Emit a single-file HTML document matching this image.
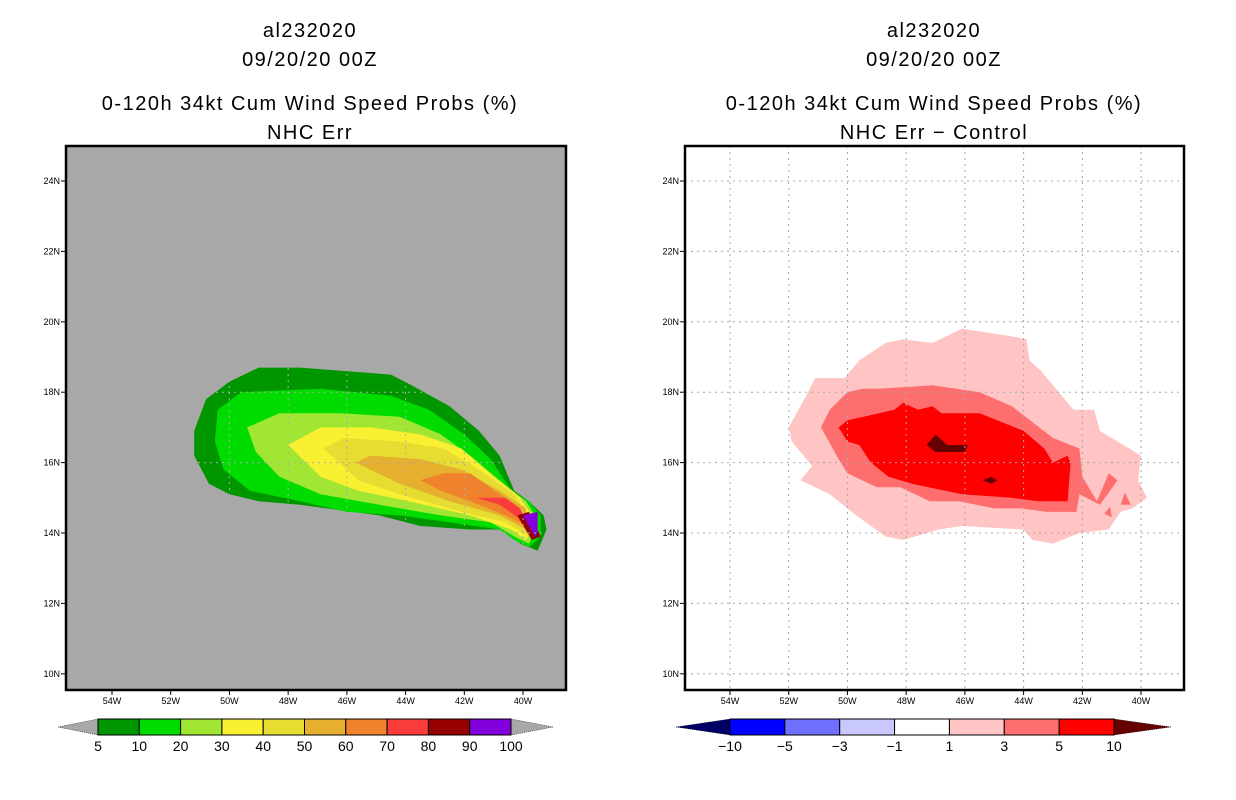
<!DOCTYPE html>
<html><head><meta charset="utf-8"><style>
html,body{margin:0;padding:0;background:#fff;}
svg{display:block;font-family:"Liberation Sans",sans-serif;}
</style></head><body>
<svg id="s" width="1236" height="800" xmlns="http://www.w3.org/2000/svg"></svg>
<script>
const lonTicks=[-54,-52,-50,-48,-46,-44,-42,-40];
const latTicks=[10,12,14,16,18,20,22,24];
const leftLevels=["5","10","20","30","40","50","60","70","80","90","100"];
const leftColors=["#009600","#00dc00","#a0e632","#faf032","#e6dc32","#e6af2d","#f0822d","#fa3c3c","#960000","#8200dc"];
const rightLevels=["−10","−5","−3","−1","1","3","5","10"];
const rightColors=["#0000ff","#7070ff","#c8c8ff","#ffffff","#ffc4c4","#ff6e6e","#ff0000"];
const c5=[[-49.0,18.7],[-47.6,18.7],[-44.5,18.5],[-43.8,18.2],[-42.5,17.6],[-41.5,16.9],[-40.8,16.2],[-40.3,15.2],[-39.8,14.9],[-39.3,14.5],[-39.2,14.1],[-39.5,13.5],[-40.1,13.7],[-40.6,14.1],[-41.8,14.1],[-43.5,14.2],[-44.9,14.5],[-47.6,14.8],[-49.0,14.9],[-50.0,15.1],[-50.7,15.4],[-51.2,16.2],[-51.2,16.9],[-50.8,17.8],[-50.0,18.3]];
const c10=[[-49.6,18.0],[-46.9,18.1],[-44.5,17.9],[-43.2,17.5],[-42.0,16.8],[-41.1,16.1],[-40.4,15.2],[-39.8,14.9],[-39.4,14.5],[-39.4,13.9],[-39.8,13.6],[-40.3,13.8],[-40.8,14.1],[-42.5,14.3],[-44.2,14.5],[-46.0,14.6],[-47.6,14.9],[-49.3,15.2],[-50.2,15.8],[-50.5,16.6],[-50.4,17.5]];
const c20=[[-49.4,17.0],[-48.3,17.4],[-46.2,17.4],[-44.2,17.3],[-42.8,16.8],[-41.8,16.2],[-40.8,15.5],[-39.9,14.9],[-39.6,14.5],[-39.6,14.0],[-39.8,13.7],[-40.3,13.9],[-41.1,14.3],[-42.8,14.5],[-44.9,14.8],[-46.9,15.1],[-48.3,15.6],[-49.1,16.3]];
const c30=[[-48.0,16.5],[-46.9,17.0],[-45.2,17.0],[-43.5,16.8],[-42.1,16.4],[-41.0,15.6],[-40.1,15.0],[-39.7,14.5],[-39.7,14.1],[-39.9,13.8],[-40.4,14.1],[-41.8,14.5],[-43.9,14.9],[-45.6,15.2],[-46.9,15.6]];
const c40=[[-46.8,16.4],[-46.1,16.7],[-44.2,16.6],[-42.7,16.4],[-41.3,15.7],[-40.3,15.1],[-39.8,14.5],[-39.8,13.9],[-40.6,14.3],[-42.1,14.6],[-44.2,15.1],[-45.6,15.5]];
const c50=[[-45.7,16.0],[-45.2,16.2],[-43.5,16.1],[-42.1,15.8],[-40.8,15.2],[-39.9,14.7],[-39.9,14.1],[-40.8,14.5],[-42.5,14.9],[-44.2,15.4]];
const c60=[[-43.5,15.5],[-42.7,15.7],[-41.8,15.7],[-40.8,15.1],[-40.1,14.7],[-39.9,14.2],[-40.6,14.5],[-41.8,14.9],[-42.8,15.2]];
const c70=[[-41.6,15.0],[-40.6,15.0],[-40.1,14.7],[-39.8,14.1],[-40.1,14.4],[-40.8,14.8]];
const c80=[[-40.2,14.5],[-39.8,14.6],[-39.4,13.9],[-39.7,13.8]];
const c90=[[-40.0,14.5],[-39.5,14.6],[-39.5,14.0],[-39.6,13.9]];
const leftContours=[c5,c10,c20,c30,c40,c50,c60,c70,c80,c90];
const d1=[[-52.0,17.0],[-51.4,17.9],[-51.1,18.4],[-50.1,18.4],[-49.6,18.9],[-48.7,19.4],[-48.1,19.5],[-47.1,19.4],[-46.1,19.8],[-44.5,19.6],[-43.9,19.5],[-43.8,18.9],[-43.4,18.6],[-42.3,17.5],[-41.6,17.5],[-41.4,16.9],[-40.0,16.2],[-40.1,15.5],[-39.8,15.0],[-40.3,14.7],[-40.7,14.6],[-41.1,14.1],[-42.1,14.0],[-43.0,13.7],[-43.7,13.8],[-44.0,14.1],[-46.1,14.2],[-46.9,14.1],[-48.1,13.8],[-48.7,13.9],[-49.7,14.5],[-50.6,15.1],[-51.6,15.5],[-51.2,15.9],[-51.9,16.6]];
const d3=[[-50.9,17.0],[-50.6,17.5],[-50.0,18.0],[-49.5,18.1],[-48.9,18.1],[-47.1,18.2],[-45.5,18.0],[-44.4,17.6],[-43.0,16.7],[-42.1,16.4],[-42.0,15.6],[-41.5,14.9],[-41.1,15.7],[-40.8,15.5],[-41.4,14.8],[-42.1,15.1],[-42.2,14.6],[-43.2,14.6],[-44.1,14.7],[-45.0,14.7],[-46.2,14.9],[-47.2,14.9],[-48.2,15.3],[-49.0,15.3],[-50.0,15.7],[-50.3,16.1]];
const d3b=[[-40.7,14.8],[-40.55,15.15],[-40.35,14.8]];
const d3c=[[-41.25,14.55],[-41.05,14.75],[-41.0,14.45]];
const d5=[[-50.3,17.0],[-50.0,17.2],[-48.4,17.5],[-48.1,17.7],[-47.6,17.5],[-47.1,17.6],[-46.8,17.4],[-45.5,17.4],[-44.0,16.9],[-43.3,16.4],[-43.0,16.0],[-42.5,16.2],[-42.4,16.0],[-42.5,14.9],[-43.5,14.9],[-44.4,15.0],[-46.1,15.1],[-47.8,15.4],[-48.6,15.6],[-49.2,16.0],[-49.6,16.5],[-50.0,16.6]];
const d10a=[[-47.3,16.5],[-47.0,16.8],[-46.6,16.5],[-45.9,16.5],[-46.0,16.3],[-47.0,16.3]];
const d10b=[[-45.4,15.5],[-45.1,15.6],[-44.9,15.5],[-45.1,15.4]];
const rightContours=[[d1,"#ffc4c4"],[d3,"#ff6e6e"],[d3b,"#ff6e6e"],[d3c,"#ff6e6e"],[d5,"#ff0000"],[d10a,"#640000"],[d10b,"#640000"]];

const NS="http://www.w3.org/2000/svg";
const svg=document.getElementById('s');
function el(t,a,p){const e=document.createElementNS(NS,t);for(const k in a)e.setAttribute(k,a[k]);(p||svg).appendChild(e);return e;}
function txt(x,y,s,size,anchor,p){const e=el('text',{x:x,y:y,'font-size':size,'text-anchor':anchor||'middle',fill:'#000'},p);e.textContent=s;return e;}

function panel(off,bg,gridCol,contours,titles,name){
  const X=lon=>112+off+(lon+54)*29.36;
  const Y=lat=>181+(24-lat)*35.2;
  const g=el('g',{});
  
  
  const x0=66+off-(off?-1:0),x1=566+off;
  const bgr=el('rect',{x:x0,y:146,width:x1-x0,height:544,fill:bg},g);
  
  
  contours.forEach(([pts,col],i)=>{
    const p=el('polygon',{points:pts.map(q=>X(q[0]).toFixed(1)+','+Y(q[1]).toFixed(1)).join(' '),fill:col},g);
    
    
  });
  lonTicks.forEach(l=>{
    const ln=el('line',{x1:X(l),x2:X(l),y1:146,y2:690,stroke:gridCol,'stroke-width':1,'stroke-dasharray':'2,4'},g);
    
    
    el('line',{x1:X(l),x2:X(l),y1:690,y2:695,stroke:'#000'},g);
    const t=txt(X(l),704,Math.abs(l)+'W',9,'middle',g);
    
    
  });
  latTicks.forEach(l=>{
    const ln=el('line',{x1:x0,x2:x1,y1:Y(l),y2:Y(l),stroke:gridCol,'stroke-width':1,'stroke-dasharray':'2,4'},g);
    
    
    el('line',{x1:x0-5,x2:x0,y1:Y(l),y2:Y(l),stroke:'#000'},g);
    const t=txt(x0-6,Y(l)+3,l+'N',9,'end',g);
    
    
  });
  const fr=el('rect',{x:x0,y:146,width:x1-x0,height:544,fill:'none',stroke:'#000','stroke-width':2.5},g);
  
  
  const cx=off?934:310;
  const ys=[37,66,110,139];
  titles.forEach((s,i)=>{
    const t=txt(cx,ys[i],s,20,'middle',g);
    t.setAttribute('letter-spacing','1.5');
    
    
  });
}
panel(0,'#a8a8a8','#acacac',leftContours.map((c,i)=>[c,leftColors[i]]),["al232020","09/20/20 00Z","0-120h 34kt Cum Wind Speed Probs (%)","NHC Err"],'left-panel');
panel(618,'#ffffff','#a8a8a8',rightContours,["al232020","09/20/20 00Z","0-120h 34kt Cum Wind Speed Probs (%)","NHC Err \u2212 Control"],'right-panel');

function colorbar(x0,x1,tipL,tipR,colors,labels,lc,rc,name){
  const g=el('g',{});
  
  
  const y0=719,y1=735,ym=727,w=(x1-x0)/colors.length;
  el('polygon',{points:`${tipL},${ym} ${x0},${y0} ${x0},${y1}`,fill:lc,stroke:'#000','stroke-width':0.5,'stroke-dasharray':'1,1'},g);
  el('polygon',{points:`${tipR},${ym} ${x1},${y0} ${x1},${y1}`,fill:rc,stroke:'#000','stroke-width':0.5,'stroke-dasharray':'1,1'},g);
  colors.forEach((c,i)=>{
    const r=el('rect',{x:x0+i*w,y:y0,width:w,height:y1-y0,fill:c,stroke:'#000','stroke-width':1},g);
    
    
  });
  labels.forEach((s,i)=>{
    const t=txt(x0+i*w,751,s,14,'middle',g);
    
    
  });
}
colorbar(98,511,58,553,leftColors,leftLevels,'#a8a8a8','#a8a8a8','left-colorbar');
colorbar(730,1114,676,1171,rightColors,rightLevels,'#000064','#640000','right-colorbar');
</script>
</body></html>
